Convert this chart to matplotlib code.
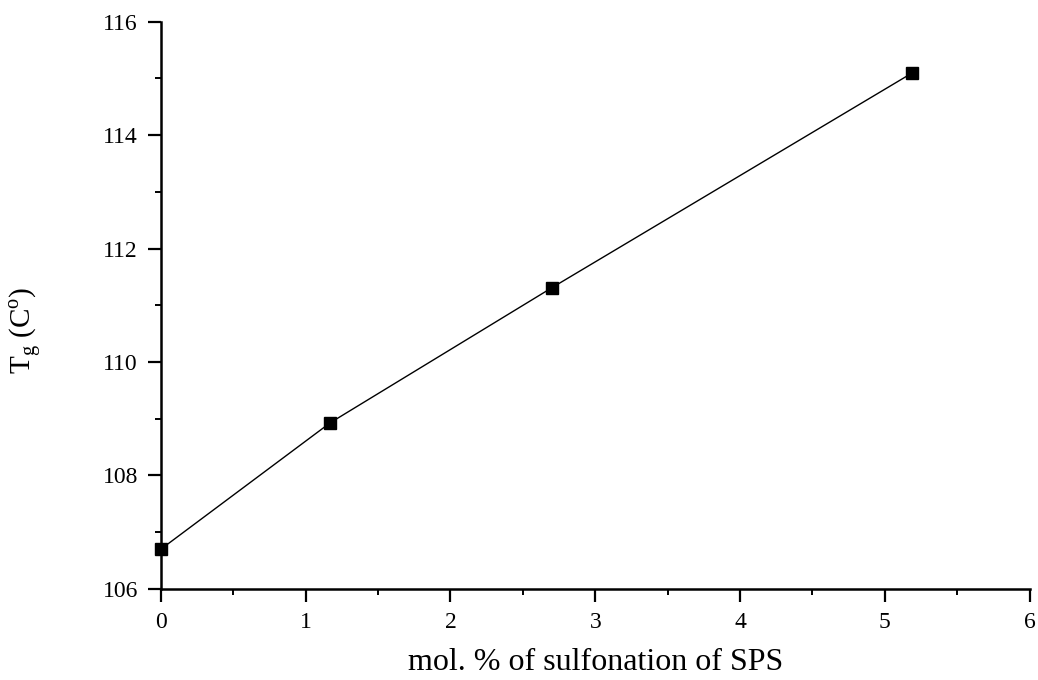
import matplotlib
matplotlib.use("Agg")
import matplotlib.pyplot as plt
from matplotlib.ticker import MultipleLocator

# sulfonation level (mol %) vs glass transition temperature
sulfonation = [0.0, 1.17, 2.70, 5.19]
tg = [106.70, 108.93, 111.31, 115.10]

plt.rcParams["font.family"] = ["Liberation Serif", "DejaVu Serif"]
plt.rcParams["mathtext.fontset"] = "custom"
plt.rcParams["mathtext.rm"] = "Liberation Serif"

fig = plt.figure(figsize=(10.38, 6.8), dpi=100)
ax = fig.add_axes([0.155, 0.134, 0.837, 0.834])

ax.plot(sulfonation, tg, color="black", lw=1.0, marker="s", ms=8.5,
        mec="black", mfc="black", clip_on=False, zorder=3)

ax.set_xlim(0, 6)
ax.set_ylim(106, 116)
ax.xaxis.set_major_locator(MultipleLocator(1))
ax.xaxis.set_minor_locator(MultipleLocator(0.5))
ax.yaxis.set_major_locator(MultipleLocator(2))
ax.yaxis.set_minor_locator(MultipleLocator(1))

for side in ("top", "right"):
    ax.spines[side].set_visible(False)
for side in ("left", "bottom"):
    ax.spines[side].set_linewidth(1.8)

ax.tick_params(which="major", direction="out", length=9.5, width=1.6,
               labelsize=17, pad=7)
ax.tick_params(which="minor", direction="out", length=4, width=1.4)

ax.set_xlabel("mol. % of sulfonation of SPS", fontsize=23, labelpad=11)
ax.set_ylabel(r"T$_\mathregular{g}$ (C$^\mathregular{o}$)", fontsize=21)
ax.yaxis.set_label_coords(-0.136, 0.455)

fig.savefig("out.png", dpi=100)
